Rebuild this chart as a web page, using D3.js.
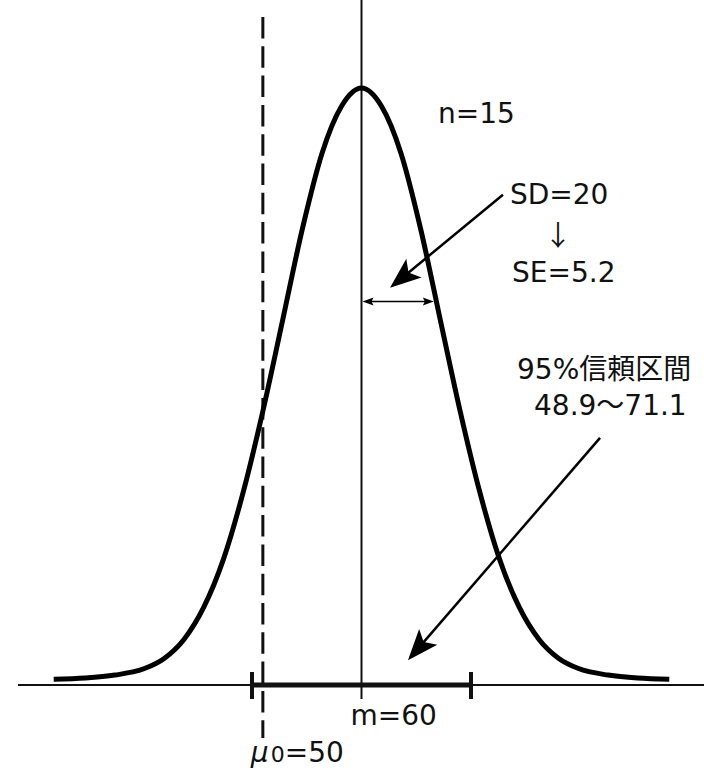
<!DOCTYPE html>
<html>
<head>
<meta charset="utf-8">
<script src="https://cdn.jsdelivr.net/npm/d3@7"></script>
<style>
  html, body { margin: 0; padding: 0; background: #fff; }
  svg { display: block; }
  text { font-family: "DejaVu Sans", "Noto Sans CJK JP", sans-serif; fill: #111; }
</style>
</head>
<body>
<svg id="chart" width="704" height="768"></svg>
<script>
// Sample statistics
const sampleMean = [60];
const nullMean = [50];
const sampleSize = [15];
const sampleSD = [20];
const standardError = [5.2];
const ciBounds = [48.9, 71.1];

// Bell curve outline: distance from the mean (axis units) and relative height
const curveOffsets = [0, 2, 4, 6, 8, 10, 12, 14, 16, 18, 20, 22, 25, 28, 31.2];
const curveHeights = [1, 0.970, 0.890, 0.762, 0.608, 0.455, 0.318, 0.205, 0.124, 0.070, 0.038, 0.021, 0.010, 0.005, 0.003];

// Relative height at which the SE span is marked
const seSpanHeight = [0.64];

// Pointer arrows: [tailX, tailY, tipX, tipY] in axis units / relative height
const sdPointer = [74.34, 0.820, 62.89, 0.663];
const ciPointer = [84.18, 0.410, 64.71, 0.035];

// Label texts
const labelN = "n=" + sampleSize[0];
const labelSD = "SD=" + sampleSD[0];
const labelSE = "SE=" + standardError[0];
const labelCI = "95%信頼区間";
const labelCIRange = ciBounds[0] + "〜" + ciBounds[1];
const labelMean = "m=" + sampleMean[0];

const svg = d3.select("#chart");
const W = 704, H = 768;

const x = d3.scaleLinear().domain(ciBounds).range([252, 471]);
const y = d3.scaleLinear().domain([0, 1]).range([681, 88]);
const axisY = 685;

// Full symmetric outline of the curve
const m = sampleMean[0];
const leftSide = curveOffsets.map((o, i) => ({ v: m - o, h: curveHeights[i] })).reverse();
const rightSide = curveOffsets.slice(1).map((o, i) => ({ v: m + o, h: curveHeights[i + 1] }));
const curvePts = leftSide.concat(rightSide);

// Horizontal axis
svg.append("line")
  .attr("x1", 18).attr("x2", W)
  .attr("y1", axisY).attr("y2", axisY)
  .attr("stroke", "#111").attr("stroke-width", 2);

// Mean line (runs from the top down through the axis as a tick)
svg.append("line")
  .attr("x1", x(m)).attr("x2", x(m))
  .attr("y1", 0).attr("y2", 699)
  .attr("stroke", "#111").attr("stroke-width", 2);

// Hypothesised mean (dashed)
svg.append("line")
  .attr("x1", x(nullMean[0])).attr("x2", x(nullMean[0]))
  .attr("y1", 17).attr("y2", 738)
  .attr("stroke", "#111").attr("stroke-width", 3)
  .attr("stroke-dasharray", "21.5 7.8");

// Confidence interval bar with end ticks
svg.append("line")
  .attr("x1", x(ciBounds[0])).attr("x2", x(ciBounds[1]))
  .attr("y1", axisY).attr("y2", axisY)
  .attr("stroke", "#111").attr("stroke-width", 5);
svg.selectAll("line.ci-end")
  .data(ciBounds)
  .join("line")
  .attr("class", "ci-end")
  .attr("x1", d => x(d)).attr("x2", d => x(d))
  .attr("y1", 672).attr("y2", 699)
  .attr("stroke", "#111").attr("stroke-width", 4);

// Bell curve
const line = d3.line()
  .x(d => x(d.v))
  .y(d => y(d.h))
  .curve(d3.curveMonotoneX);
svg.append("path")
  .datum(curvePts)
  .attr("d", line)
  .attr("fill", "none")
  .attr("stroke", "#000")
  .attr("stroke-width", 5)
  .attr("stroke-linejoin", "round");

// Arrowhead polygon with its tip at (x2,y2)
function arrowHead(x1, y1, x2, y2, len, half, notch) {
  const a = Math.atan2(y2 - y1, x2 - x1);
  const ux = Math.cos(a), uy = Math.sin(a);
  const px = -uy, py = ux;
  const bx = x2 - ux * len, by = y2 - uy * len;
  const nx = x2 - ux * (len - notch), ny = y2 - uy * (len - notch);
  return `M${x2},${y2}L${bx + px * half},${by + py * half}L${nx},${ny}L${bx - px * half},${by - py * half}Z`;
}

function pointer(p, width) {
  const x1 = x(p[0]), y1 = y(p[1]), x2 = x(p[2]), y2 = y(p[3]);
  const a = Math.atan2(y2 - y1, x2 - x1);
  const len = 31;
  svg.append("line")
    .attr("x1", x1).attr("y1", y1)
    .attr("x2", x2 - Math.cos(a) * (len - 8)).attr("y2", y2 - Math.sin(a) * (len - 8))
    .attr("stroke", "#000").attr("stroke-width", width);
  svg.append("path")
    .attr("d", arrowHead(x1, y1, x2, y2, len, 12, 7))
    .attr("fill", "#000");
}
pointer(sdPointer, 2.5);
pointer(ciPointer, 2.5);

// SE span: from the mean line to the curve at the chosen height
const hs = seSpanHeight[0];
let seEnd = m;
for (let i = 1; i < curveOffsets.length; i++) {
  if (curveHeights[i] <= hs) {
    const t = (curveHeights[i - 1] - hs) / (curveHeights[i - 1] - curveHeights[i]);
    seEnd = m + curveOffsets[i - 1] + t * (curveOffsets[i] - curveOffsets[i - 1]);
    break;
  }
}
const seY = y(hs);
const sx1 = x(m) + 1, sx2 = x(seEnd) - 2.5;
svg.append("line")
  .attr("x1", sx1 + 6).attr("x2", sx2 - 6)
  .attr("y1", seY).attr("y2", seY)
  .attr("stroke", "#000").attr("stroke-width", 1.5);
svg.append("path").attr("d", arrowHead(sx2, seY, sx1, seY, 11, 4, 2)).attr("fill", "#000");
svg.append("path").attr("d", arrowHead(sx1, seY, sx2, seY, 11, 4, 2)).attr("fill", "#000");

// Labels
const fs = 28;
svg.append("text").attr("x", 438).attr("y", 123).attr("font-size", fs).text(labelN);
svg.append("text").attr("x", 510).attr("y", 204).attr("font-size", fs).text(labelSD);
svg.append("text").attr("x", 558).attr("y", 246).attr("font-size", fs)
  .attr("text-anchor", "middle")
  .style("font-family", "'Noto Sans CJK JP', sans-serif")
  .text("↓");
svg.append("text").attr("x", 512).attr("y", 282).attr("font-size", fs).text(labelSE);
svg.append("text").attr("x", 517).attr("y", 379).attr("font-size", fs).text(labelCI);
svg.append("text").attr("x", 534).attr("y", 415).attr("font-size", fs).text(labelCIRange);
svg.append("text").attr("x", x(m) - 11).attr("y", 725).attr("font-size", fs).text(labelMean);

const mu = svg.append("text").attr("x", x(nullMean[0]) - 12).attr("y", 762).attr("font-size", fs);
mu.append("tspan").attr("font-style", "italic").text("μ");
mu.append("tspan").attr("font-size", 22).attr("dx", 2).text("0");
mu.append("tspan").text("=" + nullMean[0]);
</script>
</body>
</html>
